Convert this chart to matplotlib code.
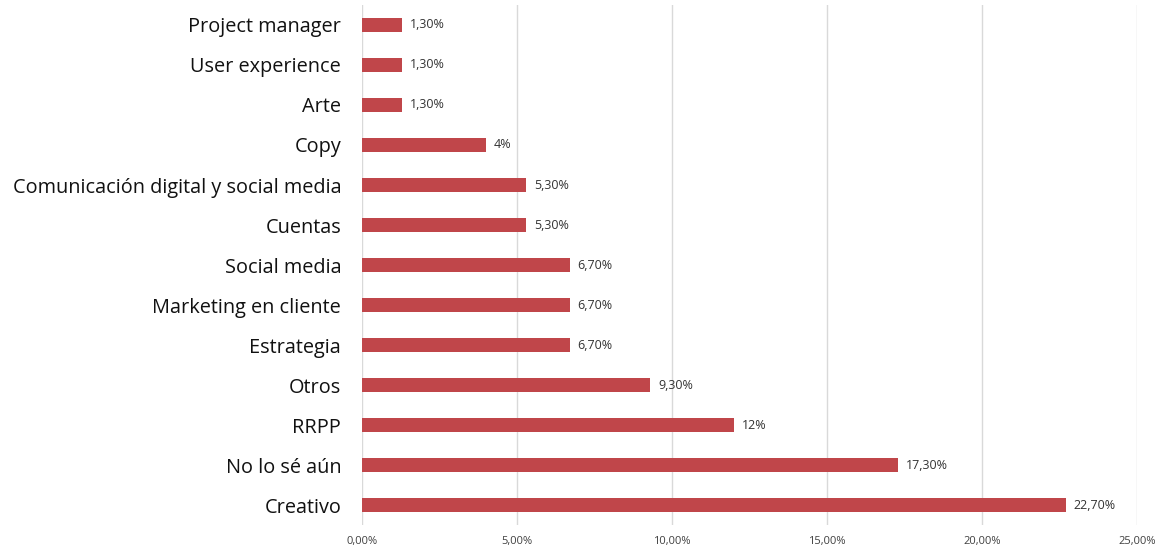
import matplotlib
matplotlib.use("Agg")
import matplotlib.pyplot as plt
from matplotlib.ticker import FuncFormatter

# Datos (de abajo hacia arriba)
categorias = ["Creativo", "No lo sé aún", "RRPP", "Otros", "Estrategia",
              "Marketing en cliente", "Social media", "Cuentas",
              "Comunicación digital y social media", "Copy", "Arte",
              "User experience", "Project manager"]
valores = [22.7, 17.3, 12, 9.3, 6.7, 6.7, 6.7, 5.3, 5.3, 4, 1.3, 1.3, 1.3]
etiquetas = ["22,70%", "17,30%", "12%", "9,30%", "6,70%", "6,70%", "6,70%",
             "5,30%", "5,30%", "4%", "1,30%", "1,30%", "1,30%"]
ticks_x = [0, 5, 10, 15, 20, 25]

plt.rcParams['font.family'] = ['Open Sans', 'DejaVu Sans']

fig = plt.figure(figsize=(11.65, 5.49), dpi=100)
ax = fig.add_axes([0.3107, 0.0437, 0.6655, 0.9472])

pos = list(range(len(categorias)))
ax.barh(pos, valores, height=0.35, color='#C0464A', zorder=3)

for p, v, t in zip(pos, valores, etiquetas):
    ax.text(v + 0.25, p, t, va='center', ha='left', fontsize=9, color='#333333')

ax.set_xlim(0, 25)
ax.set_ylim(-0.5, len(categorias) - 0.5)
ax.set_xticks(ticks_x)
ax.xaxis.set_major_formatter(FuncFormatter(lambda x, _: f"{x:.2f}%".replace('.', ',')))
ax.set_yticks(pos)
ax.set_yticklabels(categorias, fontsize=14.3, color='#111111')
ax.tick_params(axis='x', labelsize=8, colors='#404040', length=0, pad=8)
ax.tick_params(axis='y', length=0, pad=15)
ax.grid(axis='x', color='#d9d9d9', linewidth=1, zorder=0)
for s in ax.spines.values():
    s.set_visible(False)

fig.savefig("out.png", dpi=100, facecolor='white')
